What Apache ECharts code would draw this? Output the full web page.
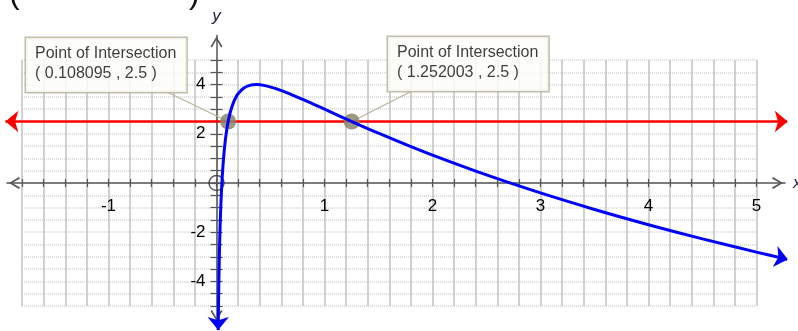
<!DOCTYPE html>
<html>
<head>
<meta charset="utf-8">
<script src="https://cdn.jsdelivr.net/npm/echarts@6/dist/echarts.min.js"></script>
<style>
  html, body { margin: 0; padding: 0; background: #ffffff; }
  #chart { width: 798px; height: 331px; }
</style>
</head>
<body>
<div id="chart"></div>
<script>
// y = f(x) sampled along the blue curve (first and last entries are the arrow tips)
const curveX = [0.01562, 0.0175, 0.02, 0.025, 0.03, 0.035, 0.04, 0.05, 0.06, 0.07, 0.08, 0.09, 0.1,
  0.108095, 0.115, 0.13, 0.16, 0.18, 0.2, 0.25, 0.3, 0.37, 0.45, 0.55, 0.65, 0.8, 0.9, 1.0, 1.1, 1.252003,
  1.5, 1.75, 2.0, 2.5, 3.0, 3.5, 4.0, 4.5, 5.0, 5.29];
const curveY = [-5.98, -5.276, -4.48, -3.23, -2.283, -1.534, -0.924, 0.017, 0.712, 1.247, 1.672, 2.018, 2.303,
  2.5, 2.648, 2.918, 3.307, 3.489, 3.629, 3.851, 3.958, 4.0, 3.959, 3.838, 3.676, 3.396, 3.2, 3.0, 2.8, 2.5,
  2.025, 1.568, 1.133, 0.328, -0.404, -1.075, -1.694, -2.271, -2.809, -3.107];

// horizontal line y = 2.5 (ends are the arrow tips)
const lineX = [-1.955, 5.29];
const lineY = [2.5, 2.5];

// intersection points
const meetX = [0.108095, 1.252003];
const meetY = [2.5, 2.5];
const meetTitle = 'Point of Intersection';

// open point at the origin
const holeX = [0];
const holeY = [0];

// tick labels shown on the axes
const xTickLabels = [-1, 1, 2, 3, 4, 5];
const yTickLabels = [-4, -2, 2, 4];

const curveData = curveX.map((x, i) => [x, curveY[i]]);
const lineData = lineX.map((x, i) => [x, lineY[i]]);
const meetData = meetX.map((x, i) => [x, meetY[i]]);
const holeData = holeX.map((x, i) => [x, holeY[i]]);

const FONT = '"Liberation Sans", Arial, sans-serif';
const AXIS_COLOR = '#555555';
const LEADER_COLOR = '#b7b59c';
const chevron = 'path://M0,10 L6,0 L12,10 L10.6,11 L6,3.2 L1.4,11 Z';

// plot frame: x from -1.8 to 5, y from -5 to 5
const GRID = { left: 22.1, right: 41.5, top: 60, bottom: 25 };
const W = 798, H = 331;
const X_MIN = -1.8, X_MAX = 5, Y_MIN = -5, Y_MAX = 5;
const plotW = W - GRID.left - GRID.right;
const plotH = H - GRID.top - GRID.bottom;
// distance from each frame edge to the zero lines
const zeroFromLeft = plotW * (0 - X_MIN) / (X_MAX - X_MIN);
const zeroFromRight = plotW - zeroFromLeft;
const zeroFromTop = plotH * (Y_MAX - 0) / (Y_MAX - Y_MIN);
const zeroFromBottom = plotH - zeroFromTop;

// callout boxes: top-left corner, and where the leader leaves the bottom edge
const CALLOUTS = [{ x: 26, y: 38, anchor: 141 }, { x: 388, y: 37, anchor: 24 }];
const CALLOUT_H = 54;

function near(a, b) { return Math.abs(a - b) < 1e-6; }

const chart = echarts.init(document.getElementById('chart'), null, { renderer: 'canvas' });

// tick axes drawn along the zero lines (one set per side of each line)
function tickX(pos, offset, extra) {
  return Object.assign({
    type: 'value', gridIndex: 0, min: X_MIN, max: X_MAX, interval: 0.2, position: pos, offset: offset,
    axisLine: { show: false, onZero: false },
    axisTick: { show: true, inside: true, length: 4, lineStyle: { color: AXIS_COLOR, width: 1.2 } },
    splitLine: { show: false },
    axisLabel: { show: false }
  }, extra || {});
}
function tickY(pos, offset, extra) {
  return Object.assign({
    type: 'value', gridIndex: 0, min: Y_MIN, max: Y_MAX, interval: 0.5, position: pos, offset: offset,
    axisLine: { show: false, onZero: false },
    axisTick: { show: true, inside: true, length: 6, lineStyle: { color: AXIS_COLOR, width: 1.2 } },
    splitLine: { show: false },
    axisLabel: { show: false }
  }, extra || {});
}

chart.setOption({
  animation: false,
  backgroundColor: '#ffffff',
  grid: [
    Object.assign({ containLabel: false, outerBoundsMode: 'none' }, GRID),
    { left: 7, right: 13, top: 35.4, bottom: 9, containLabel: false, outerBoundsMode: 'none' }
  ],
  xAxis: [
    tickX('bottom', -zeroFromBottom, {
      splitLine: { show: true, lineStyle: { color: '#c2c2c2', width: 1.5 } },
      axisLabel: {
        show: true, margin: 15, fontSize: 17, fontFamily: FONT, color: '#000',
        formatter: v => xTickLabels.some(t => near(t, v)) ? String(Math.round(v)) : ''
      }
    }),
    tickX('top', -zeroFromTop),
    {
      type: 'value', gridIndex: 1, min: -1.94, max: 5.264,
      axisLine: {
        show: true, onZero: true,
        lineStyle: { color: AXIS_COLOR, width: 1.5 },
        symbol: [chevron, chevron], symbolSize: [12, 15], symbolOffset: [7.5, -7.5]
      },
      axisTick: { show: false }, axisLabel: { show: false }, splitLine: { show: false },
      name: 'x', nameLocation: 'end', nameGap: 8,
      nameTextStyle: { fontSize: 17, fontStyle: 'italic', fontFamily: FONT, color: '#222244', verticalAlign: 'middle' }
    }
  ],
  yAxis: [
    tickY('left', -zeroFromLeft, {
      splitLine: { show: true, lineStyle: { color: '#d2d2d2', width: 1.5, type: [1, 1] } },
      axisLabel: {
        show: true, margin: 11, fontSize: 17, fontFamily: FONT, color: '#000',
        formatter: v => yTickLabels.some(t => near(t, v)) ? String(Math.round(v)) : ''
      }
    }),
    tickY('right', -zeroFromRight),
    {
      type: 'value', gridIndex: 1, min: -5.65, max: 6.0,
      axisLine: {
        show: true, onZero: true,
        lineStyle: { color: AXIS_COLOR, width: 1.5 },
        symbol: [chevron, chevron], symbolSize: [12, 13], symbolOffset: [6.5, -6.5]
      },
      axisTick: { show: false }, axisLabel: { show: false }, splitLine: { show: false },
      name: 'y', nameLocation: 'end', nameGap: 11,
      nameTextStyle: { fontSize: 17, fontStyle: 'italic', fontFamily: FONT, color: '#222244' }
    }
  ],
  graphic: [
    { type: 'text', left: 9, top: -22, silent: true,
      style: { text: '(', font: '32px ' + FONT, fill: '#111' } },
    { type: 'text', left: 189, top: -22, silent: true,
      style: { text: ')', font: '32px ' + FONT, fill: '#111' } }
  ],
  series: [
    {
      name: 'y = 2.5', type: 'line', xAxisIndex: 2, yAxisIndex: 2,
      data: lineData, clip: false, z: 3,
      lineStyle: { color: '#ff0000', width: 2.5 },
      symbol: 'arrow', symbolSize: [16, 13],
      symbolRotate: (v, p) => p.dataIndex === 0 ? 90 : -90,
      itemStyle: { color: '#ff0000' }
    },
    {
      name: 'intersections', type: 'scatter', xAxisIndex: 2, yAxisIndex: 2,
      data: meetData, clip: false, z: 4,
      symbol: 'circle', symbolSize: 16,
      itemStyle: { color: '#8a8769', opacity: 0.85 },
      label: {
        show: true,
        formatter: p => meetTitle + '\n( ' + p.value[0] + ' , ' + p.value[1] + ' )',
        fontSize: 16, fontFamily: FONT, color: '#1a1a1a', lineHeight: 20,
        backgroundColor: '#fdfdf8', borderColor: LEADER_COLOR, borderWidth: 1.5,
        padding: [6, 10, 8, 9], align: 'left', verticalAlign: 'top'
      },
      labelLayout: p => ({
        x: CALLOUTS[p.dataIndex].x, y: CALLOUTS[p.dataIndex].y,
        align: 'left', verticalAlign: 'top'
      }),
      markLine: {
        silent: true, z: 3, animation: false,
        symbol: ['none', 'none'],
        label: { show: false },
        lineStyle: { color: LEADER_COLOR, width: 1.2, type: 'solid' },
        data: meetData.map((pt, i) => [
          { coord: pt },
          { x: CALLOUTS[i].x + CALLOUTS[i].anchor, y: CALLOUTS[i].y + CALLOUT_H }
        ])
      }
    },
    {
      name: 'hole', type: 'scatter', xAxisIndex: 2, yAxisIndex: 2,
      data: holeData, clip: false, z: 5,
      symbol: 'circle', symbolSize: 15,
      itemStyle: { color: 'rgba(255,255,255,0)', borderColor: '#333333', borderWidth: 1.5 }
    },
    {
      name: 'f(x)', type: 'line', xAxisIndex: 2, yAxisIndex: 2,
      data: curveData, clip: false, z: 6,
      smooth: 0.35,
      lineStyle: { color: '#0000ff', width: 3 },
      itemStyle: { color: '#0000ff' },
      showSymbol: true,
      symbol: (v, p) => (p.dataIndex === 0 || p.dataIndex === curveData.length - 1) ? 'arrow' : 'none',
      symbolSize: [16, 13],
      symbolRotate: (v, p) => p.dataIndex === 0 ? 180 : -103
    }
  ]
});
</script>
</body>
</html>
